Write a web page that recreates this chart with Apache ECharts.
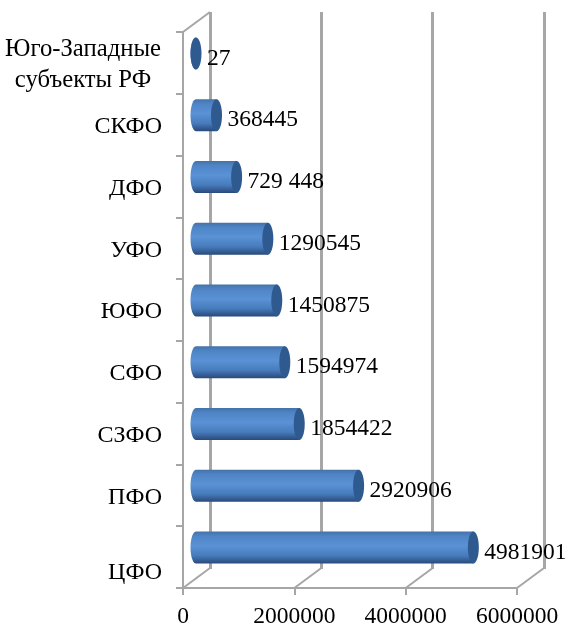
<!DOCTYPE html>
<html>
<head>
<meta charset="utf-8">
<style>html,body{margin:0;padding:0;background:#fff}#chart{width:568px;height:626px}</style>
<script src="https://cdn.jsdelivr.net/npm/echarts@6/dist/echarts.min.js"></script>
</head>
<body>
<div id="chart"></div>
<script>
// bottom to top, same order as the value axis reads
var categories = ['ЦФО','ПФО','СЗФО','СФО','ЮФО','УФО','ДФО','СКФО','Юго-Западные\nсубъекты РФ'];
var values = [4981901,2920906,1854422,1594974,1450875,1290545,729448,368445,27];
var valueLabels = ['4981901','2920906','1854422','1594974','1450875','1290545','729 448','368445','27'];
var xTicks = [0,2000000,4000000,6000000];

var gridColor = '#a6a6a6';
var font = '"Liberation Serif", "Times New Roman", serif';
var fontSize = 23.5;
var depthX = 27, depthY = 20;

var myChart = echarts.init(document.getElementById('chart'));

function cylinderFill() {
    return new echarts.graphic.LinearGradient(0, 0, 0, 1, [
        {offset: 0, color: '#4472aa'},
        {offset: 0.15, color: '#4f85c6'},
        {offset: 0.45, color: '#5a92d6'},
        {offset: 0.75, color: '#477cbc'},
        {offset: 0.92, color: '#33598f'},
        {offset: 1, color: '#274a78'}
    ]);
}

// cylinder side: rounded at the axis end, square where the end cap sits on it
function bodyOutline(x0, x1, cy, rx, r) {
    var pts = [[x1, cy - r], [x1, cy + r]];
    for (var a = 90; a <= 270; a += 10) {
        var t = a * Math.PI / 180;
        pts.push([x0 + rx * Math.cos(t), cy + r * Math.sin(t)]);
    }
    return pts;
}

function renderBar(params, api) {
    var p = api.coord([api.value(0), api.value(1)]);
    var p0 = api.coord([0, api.value(1)]);
    var cy = p[1] - 9.5;
    var x0 = p0[0] + 13;
    var x1 = p[0] + 13;
    var r = 16, rx = 5.5;
    var idx = params.dataIndex;
    return {
        type: 'group',
        children: [
            {type: 'polygon', shape: {points: bodyOutline(x0, x1, cy, rx, r)}, style: {fill: cylinderFill()}},
            {type: 'ellipse', shape: {cx: x1, cy: cy, rx: rx, ry: r}, style: {fill: '#2f5a90'}},
            {type: 'text', style: {
                x: x1 + 11, y: cy + 5,
                text: valueLabels[idx],
                font: fontSize + 'px ' + font,
                fill: '#000',
                verticalAlign: 'middle'
            }}
        ]
    };
}

// floor diagonals, and the one closing the left wall at the top
function renderDepth(params, api) {
    var sys = params.coordSys;
    var p = api.coord([api.value(0), 0]);
    var bottom = sys.y + sys.height;
    var lineStyle = {stroke: gridColor, lineWidth: 2};
    var children = [{type: 'line', shape: {x1: p[0], y1: bottom, x2: p[0] + depthX, y2: bottom - depthY}, style: lineStyle}];
    if (api.value(0) === 0) {
        children.push({type: 'line', shape: {x1: p[0], y1: sys.y, x2: p[0] + depthX, y2: sys.y - depthY}, style: lineStyle});
    }
    return {type: 'group', children: children};
}

var barData = values.map(function (v, i) { return [v, i]; });
var tickData = xTicks.map(function (v) { return [v, 0]; });

var option = {
    backgroundColor: '#fff',
    animation: false,
    grid: [
        {left: 183, top: 32, width: 334, height: 556, outerBoundsMode: 'none'},
        {left: 210, top: 12, width: 334, height: 557, outerBoundsMode: 'none'}
    ],
    xAxis: [
        {
            gridIndex: 0, type: 'value', min: 0, max: 6000000, interval: 2000000,
            axisLine: {show: true, lineStyle: {color: gridColor, width: 2}},
            axisTick: {show: true, length: 7, lineStyle: {color: gridColor, width: 2}},
            splitLine: {show: false},
            axisLabel: {
                color: '#000', fontFamily: font, fontSize: fontSize, margin: 17,
                showMinLabel: true, showMaxLabel: true,
                formatter: function (v) { return String(v); }
            }
        },
        {
            gridIndex: 1, type: 'value', min: 0, max: 6000000, interval: 2000000,
            axisLine: {show: false}, axisTick: {show: false}, axisLabel: {show: false},
            splitLine: {show: true, lineStyle: {color: gridColor, width: 3}}
        }
    ],
    yAxis: [
        {
            gridIndex: 0, type: 'category', data: categories,
            axisLine: {show: true, lineStyle: {color: gridColor, width: 2}},
            axisTick: {show: true, length: 7, lineStyle: {color: gridColor, width: 2}},
            splitLine: {show: false},
            axisLabel: {
                interval: 0,
                margin: 21,
                padding: [4, 0, 0, 0],
                color: '#000',
                fontFamily: font,
                fontSize: 24,
                formatter: function (v) {
                    if (v.indexOf('\n') >= 0) {
                        return v.split('\n').map(function (s) { return '{c|' + s + '}'; }).join('\n');
                    }
                    if (v === categories[0]) {
                        return '{low|' + v + '}';
                    }
                    return v;
                },
                rich: {
                    c: {width: 158, align: 'center', fontFamily: font, fontSize: 24.7, lineHeight: 31, color: '#000'},
                    low: {padding: [27, 0, 0, 0], fontFamily: font, fontSize: 24, color: '#000'}
                }
            }
        },
        {
            gridIndex: 1, type: 'category', data: categories,
            axisLine: {show: false}, axisTick: {show: false}, axisLabel: {show: false}, splitLine: {show: false}
        }
    ],
    series: [
        {type: 'custom', xAxisIndex: 0, yAxisIndex: 0, renderItem: renderDepth, data: tickData, clip: false, z: 1, silent: true},
        {type: 'custom', xAxisIndex: 0, yAxisIndex: 0, renderItem: renderBar, data: barData, clip: false, z: 5, encode: {x: 0, y: 1}}
    ]
};
myChart.setOption(option);
</script>
</body>
</html>
